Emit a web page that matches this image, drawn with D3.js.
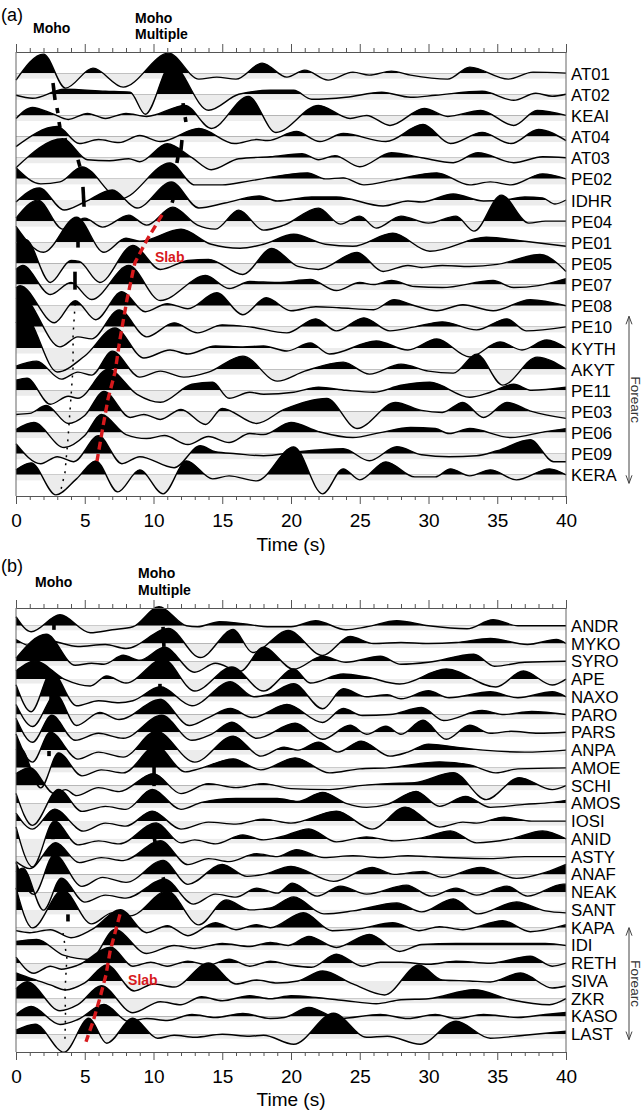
<!DOCTYPE html>
<html>
<head>
<meta charset="utf-8">
<script src="https://cdn.jsdelivr.net/npm/d3@7"></script>
<style>
  body { margin: 0; background: #fff; }
  svg { display: block; font-family: "Liberation Sans", Arial, Helvetica, sans-serif; }
  .tick text { font-size: 19px; fill: #000; }
  .tick line, .domain { stroke: #555; }
  .station { font-size: 16.8px; fill: #000; }
  .panel-label { font-size: 18px; }
  .phase { font-size: 14px; font-weight: bold; }
  .slab { font-size: 14px; font-weight: bold; fill: #d7191c; }
  .axisText { font-size: 19px; text-anchor: middle; }
  .forearc { font-size: 13.5px; fill: #333; text-anchor: middle; }
</style>
</head>
<body>
<div id="svg-container"></div>
<script>
////////////////////////////////////////////////////////////////////
////////////////////////////  Data  ////////////////////////////////
// receiver functions as [time (s), amplitude] extrema

const stationsA = ["AT01", "AT02", "KEAI", "AT04", "AT03", "PE02", "IDHR", "PE04", "PE01", "PE05",
  "PE07", "PE08", "PE10", "KYTH", "AKYT", "PE11", "PE03", "PE06", "PE09", "KERA"];

const tracesA = [
  [[0,-7],[2.0,19],[3.6,-15],[5.6,5],[7.8,-14],[11.1,20],[13.3,-6],[14.6,-4],[16.0,-6],[17.9,10],[19.7,-4],[21.0,3],[22.7,-7],[24.5,1],[25.7,-2],[27.3,2],[28.7,-2],[31.4,-6],[33.0,6],[35.8,-6],[37.6,1],[40,0]],
  [[0,-1],[1.2,-4],[3.5,5],[6.5,3],[8.3,2],[9.4,-20],[11.3,30],[14.0,-16],[16.2,0],[18.5,4],[20.2,4],[21.5,-5],[24.0,-3],[26.6,2],[28.7,-3],[30.5,-1],[33.9,3],[36.2,-6],[37.8,1],[39.0,-2],[40,0]],
  [[0,-3],[1.2,8],[2.6,2],[3.8,-4],[5.2,2],[6.5,-3],[8.0,2],[9.5,-1],[12.3,10],[14.2,-13],[16.9,19],[18.9,-17],[22.0,10],[24.3,-3],[25.5,0],[27.2,-10],[29.7,7],[31.4,-1],[33.8,5],[36.2,-10],[37.9,5],[40,0]],
  [[0,-10],[3.0,10],[4.6,-7],[6.0,-3],[7.5,-6],[9.0,1],[10.5,-5],[13.3,8],[15.9,-7],[17.5,-3],[18.3,-4],[20.4,5],[22.1,-5],[23.8,3],[26.9,-5],[29.6,12],[31.6,-7],[33.9,4],[36.0,-7],[38.0,7],[40,-4]],
  [[0,-10],[3.4,19],[5.2,-2],[6.8,-3],[8.2,-1],[9.0,-4],[11.0,14],[12.8,0],[14.2,-12],[16.2,-1],[18.5,1],[20.8,4],[22.0,-2],[23.2,2],[25.0,-9],[27.3,5],[29.5,0],[31.8,-5],[33.6,5],[36.2,-5],[38.3,1],[40,0]],
  [[0,11],[1.8,-5],[3.2,-3],[4.8,12],[7.6,-20],[11.2,16],[13.0,-6],[15.0,-6],[17.0,-2],[21.2,6],[22.5,0],[23.8,1],[25.3,-6],[27.5,-1],[30.6,6],[33.0,-6],[34.5,-3],[36.0,-6],[38.3,5],[40,0]],
  [[0,-2],[1.7,12],[3.5,-10],[5.0,-2],[7.0,10],[8.8,-8],[11.3,18],[13.3,-8],[15.2,-3],[17.7,4],[19.0,-1],[21.5,3],[23.3,3],[26.7,-6],[28.5,-1],[29.5,-2],[31.8,6],[34.0,-1],[35.5,0],[37.0,3],[38.3,2],[39.2,-4],[40,0]],
  [[0,3],[1.6,21],[3.4,-8],[5.0,3],[6.3,-6],[8.2,6],[9.5,-4],[11.4,14],[13.2,-4],[14.5,-8],[16.2,11],[18.0,-9],[19.5,-4],[22.0,13],[23.6,-3],[25.0,5],[26.2,-7],[28.0,5],[30.0,-2],[32.0,5],[33.3,-10],[35.3,26],[37.3,-2],[38.5,0],[40,0]],
  [[0,16],[2.0,-10],[4.4,25],[6.4,-10],[8.0,4],[9.0,1],[12.0,13],[14.2,-2],[16.3,-6],[18.0,-2],[20.2,8],[22.5,-2],[24.5,-4],[27.4,9],[30.1,-9],[34.2,5],[37.0,1],[40,-4]],
  [[0,20],[0.7,24],[2.5,-19],[4.0,3],[4.6,2],[6.1,-19],[8.5,18],[10.5,-6],[12.5,3],[14.0,4],[16.5,-11],[18.6,15],[20.5,-3],[22.0,-6],[24.8,11],[26.7,-8],[28.5,-2],[29.5,-4],[31.0,-2],[33.0,-3],[35.0,-1],[38.1,9],[40,-8]],
  [[0,15],[0.5,19],[2.5,-10],[4.0,2],[5.5,-15],[8.2,19],[10.5,-16],[13.8,9],[15.5,-4],[17.0,3],[19.0,2],[21.4,5],[23.3,-6],[25.0,2],[26.0,0],[27.3,4],[29.0,-2],[31.0,-3],[34.7,4],[36.2,-3],[38.0,-1],[40,6]],
  [[0,18],[0.3,20],[2.8,-17],[4.3,5],[5.8,-14],[7.7,14],[9.4,-6],[11.0,2],[12.5,-3],[14.6,13],[16.5,-9],[18.2,8],[20.0,-5],[21.8,-1],[23.5,-2],[26.0,-4],[27.5,6],[29.0,0],[30.6,-5],[32.5,1],[34.7,-5],[37.4,6],[40,0]],
  [[0,28],[0.4,30],[3.2,-20],[4.5,-10],[5.5,-12],[7.5,17],[9.5,-10],[11.5,4],[13.2,-6],[15.0,2],[17.0,0],[19.7,-6],[21.8,8],[23.3,-4],[25.3,9],[27.2,-4],[29.0,0],[31.0,5],[33.5,-3],[35.7,8],[37.1,-4],[40,0]],
  [[0,25],[0.6,32],[3.0,-24],[5.0,-8],[7.2,20],[9.3,-10],[11.2,-2],[12.5,-6],[14.5,2],[16.5,1],[18.0,2],[19.7,-3],[21.4,5],[22.8,-6],[26.2,7],[28.5,-2],[30.6,9],[33.0,-9],[35.2,6],[36.8,-2],[38.6,8],[40,0]],
  [[0,3],[1.5,8],[3.3,-10],[4.5,-3],[5.5,-6],[7.0,18],[9.0,-8],[10.5,-2],[12.2,-8],[14.0,-3],[16.5,13],[19.0,-12],[21.0,-2],[23.8,7],[25.7,-5],[28.0,5],[30.0,-2],[31.8,-4],[33.5,15],[35.4,-16],[37.9,12],[40,0]],
  [[0,10],[0.8,12],[2.5,-14],[3.8,-6],[4.5,-8],[6.7,21],[8.8,-4],[10.5,-12],[12.8,6],[14.3,8],[15.5,-8],[17.0,-2],[18.0,-4],[20.2,-2],[22.0,3],[24.0,0],[26.0,-2],[28.0,5],[30.1,8],[33.0,-7],[34.5,-2],[36.2,6],[37.5,0],[40,3]],
  [[0,-3],[1.0,-2],[2.2,6],[3.8,-12],[5.0,-4],[6.4,20],[8.3,-6],[9.3,-3],[10.5,-8],[12.0,2],[13.8,-13],[15.0,3],[17.5,-12],[19.5,2],[22.6,13],[24.8,-17],[27.6,9],[29.5,1],[31.0,-1],[32.5,9],[34.0,-6],[35.7,9],[37.5,0],[40,-7]],
  [[0,3],[1.3,10],[3.5,-15],[5.0,-3],[6.2,18],[8.0,-2],[9.5,-6],[10.8,-3],[12.5,-12],[14.0,-4],[15.5,-10],[17.0,-1],[18.0,-2],[20.0,10],[22.0,1],[24.5,-5],[26.5,0],[28.7,5],[30.5,4],[31.5,-1],[33.0,4],[36.0,-5],[38.5,1],[40,4]],
  [[0,10],[1.8,-10],[3.0,-3],[4.2,-8],[6.0,18],[7.7,-10],[9.0,-3],[11.5,-14],[13.4,8],[14.5,2],[16.0,0],[18.0,-2],[20.5,2],[23.8,5],[25.7,-7],[27.7,7],[29.5,-1],[31.5,-3],[33.5,-2],[35.0,3],[37.4,14],[39.1,-8],[40,-8]],
  [[0,5],[1.1,12],[2.9,-20],[4.4,-4],[5.8,14],[7.4,-17],[9.0,5],[10.7,-19],[12.4,14],[14.3,-4],[15.5,-1],[17.5,-6],[20.2,28],[22.3,-19],[23.8,6],[25.0,-5],[26.9,13],[29.0,-2],[30.5,-2],[31.6,6],[33.0,-1],[34.5,5],[36.4,-5],[38.8,6],[40,0]]
];

const stationsB = ["ANDR", "MYKO", "SYRO", "APE", "NAXO", "PARO", "PARS", "ANPA", "AMOE", "SCHI", "AMOS", "IOSI",
  "ANID", "ASTY", "ANAF", "NEAK", "SANT", "KAPA", "IDI", "RETH", "SIVA", "ZKR", "KASO", "LAST"];

const tracesB = [
  [[0,9],[1.1,-6],[3.2,11],[5.4,-7],[7.0,-4],[8.5,-1],[10.4,19],[12.4,0],[13.2,-1],[14.8,4],[16.5,2],[18.5,-1],[20.0,-1],[21.8,5],[24.0,-4],[25.5,-1],[27.7,5],[30.0,0],[32.8,-3],[34.7,6],[36.5,0],[40,0]],
  [[0,4],[1.2,-3],[2.3,3],[4.5,-3],[6.5,-1],[8.0,-5],[11.1,15],[13.4,-14],[15.8,14],[17.2,-9],[19.8,13],[22.3,-12],[24.3,7],[26.0,0],[28.0,1],[30.0,0],[32.0,1],[34.5,5],[37.2,-1],[39.3,4],[40,0]],
  [[0,3],[2.2,27],[4.3,-4],[5.5,-2],[6.4,-3],[7.8,6],[9.0,1],[10.8,14],[13.0,-11],[14.5,-2],[16.3,-10],[18.0,14],[20.2,-8],[22.3,5],[24.0,-1],[26.5,5],[28.0,-3],[30.0,-1],[33.3,7],[34.8,-5],[37.0,-1],[40,0]],
  [[0,8],[1.4,18],[3.5,0],[5.4,-7],[6.6,3],[8.0,-4],[10.7,20],[13.0,-12],[15.7,12],[18.0,-12],[20.2,10],[21.4,-4],[23.8,5],[25.5,2],[27.9,-5],[31.3,10],[34.9,-8],[36.9,8],[39.0,-6],[40,0]],
  [[0,12],[1.1,-15],[2.6,25],[4.4,-9],[6.0,-4],[7.5,-6],[8.5,-4],[10.5,10],[12.8,-9],[15.6,15],[17.3,0],[18.3,2],[20.2,13],[22.3,-12],[23.8,8],[25.5,0],[27.0,2],[28.0,-2],[30.0,6],[31.5,-1],[34.5,5],[36.5,-1],[39.0,5],[40,0]],
  [[0,10],[1.2,-12],[2.9,20],[4.4,-11],[6.1,2],[7.5,-5],[10.5,15],[12.6,-11],[14.0,-3],[15.6,6],[17.2,-3],[19.7,10],[22.3,-8],[23.8,6],[25.2,-1],[27.2,0],[29.5,7],[31.1,-6],[33.9,4],[35.5,0],[37.5,3],[40,0]],
  [[0,14],[1.2,-10],[2.6,17],[4.3,-8],[6.0,-1],[7.8,-6],[10.6,17],[12.8,-8],[14.2,-2],[15.7,10],[17.5,-6],[20.3,9],[22.3,-7],[24.3,7],[25.5,-2],[26.9,6],[28.0,-2],[29.6,12],[31.3,-7],[33.0,7],[34.5,-1],[36.0,1],[38.0,-1],[40,0]],
  [[0,16],[1.2,-12],[2.5,18],[4.5,-9],[6.0,-2],[7.8,-7],[10.2,19],[13.0,-12],[15.8,14],[17.8,-6],[19.5,3],[20.5,0],[22.0,8],[23.4,-2],[25.1,9],[27.2,-6],[28.5,-2],[30.0,6],[32.0,3],[34.0,0],[37.0,-2],[40,0]],
  [[0,18],[0.3,20],[1.8,-20],[3.1,15],[4.8,-8],[6.2,-2],[7.8,-5],[10.2,22],[12.3,-4],[13.3,-1],[15.8,9],[17.8,-2],[20.3,10],[22.8,-5],[25.0,-1],[27.0,0],[30.8,6],[33.0,3],[34.9,-5],[36.5,-1],[40,0]],
  [[0,12],[1.0,18],[2.8,-8],[3.6,-4],[4.4,-10],[6.0,-2],[7.5,-6],[10.0,12],[12.0,-8],[14.0,2],[16.0,-2],[18.0,2],[20.0,-3],[22.8,-4],[25.0,0],[27.0,2],[29.0,3],[31.8,13],[34.2,-14],[36.6,8],[39.0,-4],[40,0]],
  [[0,10],[1.2,-22],[3.1,14],[4.8,-8],[6.5,-3],[8.0,-6],[9.9,14],[12.0,-6],[13.5,1],[16.0,5],[19.0,5],[20.5,2],[22.3,11],[24.0,0],[25.5,-4],[27.0,-1],[29.1,12],[30.8,-3],[32.7,7],[34.5,-4],[37.0,-1],[39.0,1],[40,3]],
  [[0,8],[1.2,-8],[2.8,12],[4.9,-10],[6.5,-2],[8.0,-5],[9.9,10],[12.0,-8],[14.0,-1],[16.0,-3],[18.0,2],[20.0,-2],[23.3,10],[25.9,-8],[28.3,14],[30.8,-6],[32.5,-1],[33.5,-2],[35.5,4],[37.5,0],[40,0]],
  [[0,12],[1.2,-28],[2.8,18],[4.5,-6],[6.0,-2],[7.5,-5],[10.2,16],[12.0,-4],[13.0,-1],[14.5,-5],[16.5,4],[18.0,-1],[19.5,3],[21.3,10],[23.3,-3],[25.5,2],[27.5,-2],[29.5,1],[31.6,8],[33.5,-4],[36.0,0],[38.3,8],[40,0]],
  [[0,-5],[1.0,-12],[2.9,14],[4.6,-6],[6.2,-1],[7.8,-4],[10.5,16],[12.5,-8],[14.0,-2],[15.5,-5],[17.5,3],[19.0,0],[20.4,7],[22.4,-1],[24.5,1],[26.5,-1],[28.5,1],[30.0,0],[34.5,-2],[37.0,0],[40,0]],
  [[0,12],[1.3,-20],[2.8,20],[4.8,-12],[6.3,-3],[8.0,-8],[10.7,14],[12.5,-10],[15.0,10],[16.8,-2],[18.0,0],[20.0,8],[23.1,-7],[25.9,7],[27.5,0],[29.6,3],[31.0,-3],[33.8,7],[36.4,-4],[38.5,2],[40,10]],
  [[0,20],[0.5,24],[2.0,-18],[3.3,14],[5.0,-10],[6.5,-3],[8.0,-6],[10.8,13],[12.9,-12],[14.5,-2],[16.0,-5],[17.5,4],[19.0,-1],[20.1,9],[21.9,-4],[23.6,6],[25.5,-2],[28.4,7],[30.2,-4],[32.0,4],[33.5,-3],[35.7,6],[37.2,-4],[39.8,8],[40,8]],
  [[0,22],[1.2,-18],[3.4,20],[5.5,-14],[7.0,-3],[8.3,-6],[11.0,19],[13.3,-15],[15.3,10],[17.0,0],[18.5,2],[20.2,13],[22.4,-4],[24.5,-1],[27.7,7],[29.5,-2],[31.8,11],[33.6,-4],[36.4,8],[38.5,-1],[40,-3]],
  [[0,-3],[1.0,-5],[2.5,-2],[4.0,-10],[5.5,-2],[7.6,18],[9.5,-5],[11.0,2],[12.5,-8],[14.5,5],[16.0,-2],[17.5,3],[18.5,0],[20.9,15],[23.0,-3],[25.0,-1],[27.4,5],[29.3,-3],[30.8,1],[32.5,-2],[35.4,7],[37.4,-4],[40,3]],
  [[0,4],[1.5,6],[3.5,-10],[5.4,-14],[7.2,16],[9.5,-8],[11.5,0],[13.0,-3],[15.0,2],[17.0,-1],[18.5,3],[19.8,0],[21.3,9],[23.3,-2],[25.7,11],[27.9,-6],[29.5,1],[32.0,2],[35.0,2],[38.5,2],[40,0]],
  [[0,6],[1.3,-10],[2.5,-3],[3.3,-6],[4.5,-2],[6.9,16],[8.5,-3],[9.8,1],[11.0,-3],[12.5,2],[14.0,-2],[15.5,4],[17.0,-3],[18.5,2],[20.0,-2],[21.5,-4],[23.3,9],[25.2,-3],[26.5,1],[28.0,1],[30.0,-1],[32.0,2],[34.5,0],[37.4,7],[39.0,-3],[40,0]],
  [[0,8],[1.2,2],[2.5,-4],[3.6,-9],[5.0,-2],[6.6,16],[8.6,-10],[10.0,-3],[11.5,-6],[14.0,18],[16.0,-3],[17.5,1],[19.0,-2],[20.5,0],[22.3,10],[24.5,-3],[26.8,-14],[29.3,16],[31.0,1],[33.0,0],[34.5,-1],[36.7,8],[39.0,-7],[40,-5]],
  [[0,10],[0.8,17],[3.2,-12],[4.5,-6],[6.2,13],[8.5,-14],[10.5,-3],[12.0,-6],[13.5,2],[15.0,-2],[17.0,3],[18.5,0],[20.0,3],[22.0,1],[24.0,-2],[26.2,-5],[28.0,-1],[30.0,0],[33.3,9],[36.0,-1],[38.8,-6],[40,0]],
  [[0,2],[1.1,10],[3.2,-8],[4.5,-3],[6.4,12],[8.2,-5],[9.5,-2],[11.0,-4],[12.8,2],[14.5,-1],[16.5,3],[18.5,-2],[19.5,-1],[21.3,9],[23.5,-2],[26.5,2],[28.5,-2],[30.5,2],[32.0,-2],[34.0,2],[36.5,-1],[38.5,2],[40,4]],
  [[0,4],[1.4,10],[3.5,-18],[5.3,16],[6.6,-9],[8.5,16],[10.3,-4],[11.5,-1],[13.0,-3],[15.0,0],[17.0,-2],[18.0,-1],[20.2,-10],[23.1,21],[25.5,-3],[27.0,-2],[29.4,-10],[32.0,13],[34.5,-4],[37.0,-1],[40,3]]
];

// picks: [t1, row1, t2, row2] short marks, rows counted from the top trace
const mohoMarksA = [[2.69,0.47,2.84,1.27],[2.98,1.65,3.05,1.89],[3.13,2.31,3.2,2.59],[3.56,3.07,3.64,3.3],
  [4.51,4.1,4.65,4.43],[4.87,5.38,4.95,6.32],[4.51,7.88,4.51,8.25],[4.29,9.39,4.29,10.24]];
const multipleMarksA = [[12.15,1.42,12.2,1.75],[12.3,2.08,12.36,2.31],[12.07,3.16,12.0,3.63],[11.78,3.96,11.7,4.25],[11.42,5.99,11.35,6.13]];
const mohoDotsA = [[4.3,10.9],[4.15,12.4],[4.15,13.9],[4.0,15.3],[3.78,17.3],[3.56,18.9],[3.27,19.7]];
const slabA = [[10.62,6.7],[9.53,7.88],[8.65,8.96],[8.07,10.71],[7.56,12.59],[7.2,14.15],[6.69,15.42],[6.33,16.7],[5.89,18.35]];
const forearcA = [11.5, 19.4];

const mohoMarksB = [[2.76,-0.11,2.76,0.23],[2.55,3.8,2.55,4.2],[2.4,7.05,2.4,7.34],[2.69,11.34,2.69,12.02],[2.84,12.41,2.84,12.59],[3.78,16.25,3.78,16.65]];
const multipleMarksB = [[10.69,0.06,10.76,1.19],[10.47,3.27,10.47,3.67],[10.47,4.12,10.55,4.85],[10.04,7.67,10.04,9.03],[9.89,11.17,10.11,12.19],[10.69,14.16,10.84,14.56]];
const mohoDotsB = [[3.42,17.3],[3.7,18.7],[3.56,20.6],[3.6,21.9],[3.56,23.3]];
const slabB = [[7.56,16.25],[6.84,18.34],[6.55,19.64],[6.11,20.94],[5.6,22.29],[5.09,23.42]];
const forearcB = [17.0, 23.3];

const majorTicks = [0, 5, 10, 15, 20, 25, 30, 35, 40];
const minorTicks = d3.range(0, 41).filter((d) => d % 5 !== 0);

////////////////////////////////////////////////////////////////////
////////////////////////////  Init  ////////////////////////////////

const width = 643;
const height = 1110;

const svg = d3
  .select("#svg-container")
  .append("svg")
  .attr("width", width)
  .attr("height", height);

const defs = svg.append("defs");

const xScale = d3.scaleLinear().domain([0, 40]).range([16, 566]);
const ampScale = d3.scaleLinear().domain([0, 10]).range([0, -10]);

const panels = [
  {
    id: "a", label: "(a)", stations: stationsA, traces: tracesA, top: 52, bottom: 496,
    moho: mohoMarksA, multiple: multipleMarksA, dots: mohoDotsA, slab: slabA, forearc: forearcA,
    band: 5.5, labelDy: 6.5,
    labelY: 21, mohoY: 33, mohoX: 33, multX: 135, multY: [23, 39], slabText: [10.1, 8.68], timeY: 551,
  },
  {
    id: "b", label: "(b)", stations: stationsB, traces: tracesB, top: 608, bottom: 1052,
    moho: mohoMarksB, multiple: multipleMarksB, dots: mohoDotsB, slab: slabB, forearc: forearcB,
    band: 4.5, labelDy: 6,
    labelY: 572, mohoY: 587, mohoX: 35, multX: 138, multY: [578, 595], slabText: [8.15, 19.92], timeY: 1106,
  },
];

////////////////////////////////////////////////////////////////////
////////////////////////////  Draw  ////////////////////////////////

panels.forEach((p) => {
  const g = svg.append("g").attr("class", "panel-" + p.id);
  const yScale = d3
    .scaleLinear()
    .domain([-1, p.stations.length])
    .range([p.top, p.bottom]);

  const fills = g.append("g");
  const lines = g.append("g");

  p.traces.forEach((trace, i) => {
    const base = yScale(i);

    const line = d3
      .line()
      .x((d) => xScale(d[0]))
      .y((d) => base + ampScale(d[1]))
      .curve(d3.curveMonotoneX);

    const area = d3
      .area()
      .x((d) => xScale(d[0]))
      .y0(base)
      .y1((d) => base + ampScale(d[1]))
      .curve(d3.curveMonotoneX);

    // clip above / below the zero line
    defs.append("clipPath").attr("id", `pos-${p.id}-${i}`)
      .append("rect").attr("x", 0).attr("y", 0).attr("width", width).attr("height", base);
    defs.append("clipPath").attr("id", `neg-${p.id}-${i}`)
      .append("rect").attr("x", 0).attr("y", base).attr("width", width).attr("height", height - base);

    fills
      .append("rect")
      .attr("x", xScale(0))
      .attr("y", base)
      .attr("width", xScale(40) - xScale(0))
      .attr("height", p.band)
      .attr("fill", "#ececec");

    fills
      .append("path")
      .attr("d", area(trace))
      .attr("fill", "#ececec")
      .attr("clip-path", `url(#neg-${p.id}-${i})`);

    fills
      .append("path")
      .attr("d", area(trace))
      .attr("fill", "#000")
      .attr("clip-path", `url(#pos-${p.id}-${i})`);

    lines
      .append("path")
      .attr("d", line(trace))
      .attr("fill", "none")
      .attr("stroke", "#000")
      .attr("stroke-width", 1.4);

    g.append("text")
      .attr("class", "station")
      .attr("x", 571)
      .attr("y", base + p.labelDy)
      .text(p.stations[i]);
  });

  // axes
  g.append("g")
    .attr("transform", `translate(0, ${p.bottom})`)
    .call(d3.axisBottom(xScale).tickValues(majorTicks).tickSize(8).tickSizeOuter(0).tickPadding(10));
  g.append("g")
    .attr("transform", `translate(0, ${p.bottom})`)
    .call(d3.axisBottom(xScale).tickValues(minorTicks).tickSize(4).tickSizeOuter(0).tickFormat(""));
  g.append("g")
    .attr("transform", `translate(0, ${p.top})`)
    .call(d3.axisTop(xScale).tickValues(majorTicks).tickSize(8).tickSizeOuter(0).tickFormat(""));
  g.append("g")
    .attr("transform", `translate(0, ${p.top})`)
    .call(d3.axisTop(xScale).tickValues(minorTicks).tickSize(4).tickSizeOuter(0).tickFormat(""));

  [0, 40].forEach((t) => {
    g.append("line")
      .attr("x1", xScale(t)).attr("x2", xScale(t))
      .attr("y1", p.top).attr("y2", p.bottom)
      .attr("stroke", "#666");
  });

  g.selectAll(".tick text").attr("font-size", 19);

  // picks
  const pickLine = d3.line().x((d) => xScale(d[0])).y((d) => yScale(d[1]));

  g.selectAll(".moho-mark")
    .data(p.moho.concat(p.multiple))
    .enter()
    .append("line")
    .attr("x1", (d) => xScale(d[0]))
    .attr("y1", (d) => yScale(d[1]))
    .attr("x2", (d) => xScale(d[2]))
    .attr("y2", (d) => yScale(d[3]))
    .attr("stroke", "#000")
    .attr("stroke-width", 3.6);

  g.append("path")
    .attr("d", pickLine(p.dots))
    .attr("fill", "none")
    .attr("stroke", "#000")
    .attr("stroke-width", 1.5)
    .attr("stroke-dasharray", "2,6");

  g.append("path")
    .attr("d", pickLine(p.slab))
    .attr("fill", "none")
    .attr("stroke", "#d7191c")
    .attr("stroke-width", 3.4)
    .attr("stroke-dasharray", "8,4.5");

  g.append("text")
    .attr("class", "slab")
    .attr("x", xScale(p.slabText[0]))
    .attr("y", yScale(p.slabText[1]) + 5)
    .text("Slab");

  // labels on top
  g.append("text").attr("class", "panel-label").attr("x", 1).attr("y", p.labelY).text(p.label);
  g.append("text").attr("class", "phase").attr("x", p.mohoX).attr("y", p.mohoY).text("Moho");
  g.append("text").attr("class", "phase").attr("x", p.multX).attr("y", p.multY[0]).text("Moho");
  g.append("text").attr("class", "phase").attr("x", p.multX).attr("y", p.multY[1]).text("Multiple");

  g.append("text")
    .attr("class", "axisText")
    .attr("x", (xScale(0) + xScale(40)) / 2)
    .attr("y", p.timeY)
    .text("Time (s)");

  // forearc arrow
  const ax = 629;
  const y1 = yScale(p.forearc[0]);
  const y2 = yScale(p.forearc[1]);
  g.append("path")
    .attr("d", `M${ax},${y1} L${ax},${y2} M${ax - 3},${y1 + 8} L${ax},${y1} L${ax + 3},${y1 + 8} M${ax - 3},${y2 - 8} L${ax},${y2} L${ax + 3},${y2 - 8}`)
    .attr("fill", "none")
    .attr("stroke", "#444")
    .attr("stroke-width", 1);
  g.append("text")
    .attr("class", "forearc")
    .attr("transform", `translate(631, ${(y1 + y2) / 2}) rotate(90)`)
    .text("Forearc");
});
</script>
</body>
</html>
